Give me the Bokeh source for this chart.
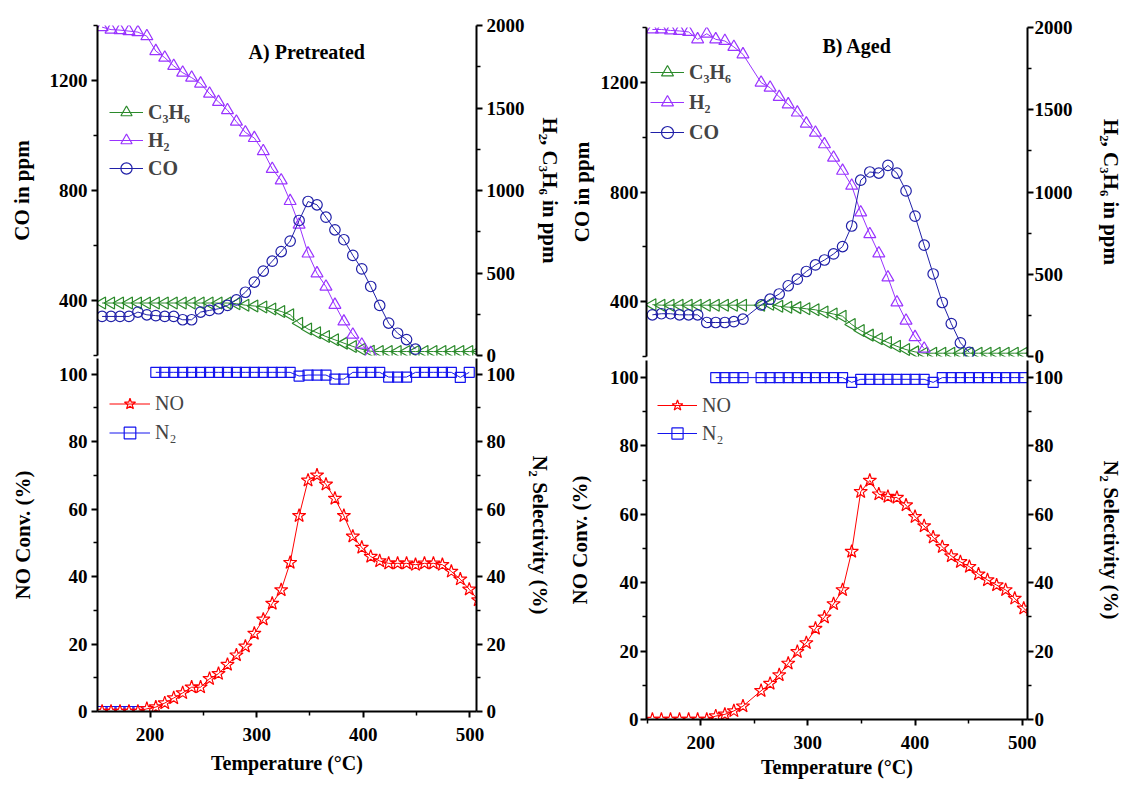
import numpy as np
from bokeh.plotting import figure
from bokeh.models import (ColumnDataSource, LinearAxis, Range1d, FixedTicker,
                          Legend, LegendItem, Label)
from bokeh.layouts import row, column
from bokeh.embed import file_html
from bokeh.resources import INLINE

FONT = "Liberation Serif"

# ---------------- data: A) pretreated catalyst ----------------
temp_a = [155.0, 163.4, 171.8, 180.2, 188.6, 197.0, 205.4, 213.8, 222.2, 230.6,
          239.0, 247.4, 255.8, 264.2, 272.6, 281.0, 289.4, 297.8, 306.2, 314.6,
          323.0, 331.4, 339.8, 348.2, 356.6, 365.0, 373.4, 381.8, 390.2, 398.6,
          407.0, 415.4, 423.8, 432.2, 440.6, 449.0, 457.4, 465.8, 474.2, 482.6,
          491.0, 499.4, 507.8]
co_a = [342, 342, 342, 342, 358, 348, 345, 342, 342, 330,
        330, 358, 364, 370, 382, 402, 430, 467, 507, 543,
        578, 616, 691, 760, 748, 703, 657, 621, 564, 515,
        451, 382, 318, 281, 258, 223, None, None, None, None,
        None, None, None]
h2_a = [1990, 1975, 1972, 1966, 1960, 1935, 1845, 1805, 1755, 1714,
        1684, 1648, 1587, 1537, 1487, 1417, 1352, 1318, 1238, 1131,
        1061, 936, 793, 618, 498, 417, 307, 206, 126, 66,
        15, None, None, None, None, None, None, None, None, None,
        None, None, None]
c3h6_a = [318, 318, 318, 318, 318, 318, 318, 318, 318, 318,
          318, 318, 318, 318, 318, 314, 305, 300, 294, 282,
          267, 247, 195, 160, 138, 115, 95, 75, 55, 38,
          26, 24, 24, 24, 24, 24, 24, 24, 24, 24,
          24, 24, 24]
no_a = [0, 0, 0, 0, 0, 0.8, 1.3, 2.5, 4.0, 5.5,
        7.2, 7.2, 9.7, 11.2, 13.9, 16.7, 19.3, 23.1, 27.3, 32.0,
        36.0, 44.1, 58.0, 68.5, 70.0, 67.3, 63.1, 58.0, 51.9, 48.6,
        45.9, 44.6, 43.9, 43.9, 43.9, 43.5, 43.9, 43.9, 43.5, 41.5,
        39.2, 36.2, 33.0]
n2_a = [0, 0, 0, 0, 0, None, 100.5, 100.5, 100.5, 100.5,
        100.5, 100.5, 100.5, 100.5, 100.5, 100.5, 100.5, 100.5, 100.5, 100.5,
        100.5, 100.5, 99.4, 99.7, 99.7, 99.7, 98.5, 98.5, 100.5, 100.5,
        100.5, 100.5, 99.1, 99.1, 99.1, 100.5, 100.5, 100.5, 100.5, 100.5,
        99.0, 100.5, None]

# ---------------- data: B) aged catalyst ----------------
temp_b = [155.0, 163.4, 171.9, 180.3, 188.8, 197.2, 205.7, 214.1, 222.6, 231.0,
          239.5, 256.4, 264.8, 273.3, 281.7, 290.2, 298.6, 307.1, 315.5, 324.0,
          332.4, 340.9, 349.3, 357.8, 366.2, 374.7, 383.1, 391.6, 400.0, 408.5,
          416.9, 425.4, 433.8, 442.3, 450.7, 459.2, 467.6, 476.1, 484.5, 493.0,
          501.4, 509.9]
co_b = [352, 356, 356, 352, 352, 352, 324, 324, 324, 327,
        336, 388, 409, 428, 458, 482, 510, 534, 552, 574,
        601, 676, 843, 873, 869, 897, 869, 804, 712, 606,
        501, 397, 320, 250, 215, None, None, None, None, None,
        None, None]
h2_b = [1988, 1988, 1982, 1979, 1973, 1928, 1962, 1928, 1918, 1882,
        1837, 1665, 1634, 1578, 1533, 1483, 1416, 1361, 1290, 1209,
        1129, 1038, 876, 744, 627, 481, 329, 218, 118, 48,
        None, None, None, None, None, None, None, None, None, None,
        None, None]
c3h6_b = [315, 312, 312, 312, 312, 312, 312, 312, 312, 312,
          312, 312, 318, 305, 300, 297, 290, 284, 270, 258,
          245, 195, 158, 130, 108, 85, 62, 42, 28, 20,
          20, 20, 20, 20, 20, 20, 20, 20, 20, 20,
          20, 20]
no_b = [0, 0, 0, 0, 0, 0, 0, 1.0, 1.5, 2.5,
        3.9, 8.4, 10.5, 13.0, 16.4, 19.8, 22.4, 26.6, 29.9, 33.8,
        37.9, 49.1, 66.6, 69.9, 65.9, 65.2, 64.9, 62.7, 59.3, 56.6,
        53.3, 50.5, 47.8, 46.1, 44.7, 42.5, 40.8, 39.3, 37.9, 35.4,
        32.5, 30.0]
n2_b = [None, None, None, None, None, None, None, 100, 100, 100,
        100, 100, 100, 100, 100, 100, 100, 100, 100, 100,
        100, 98.6, 99.5, 99.5, 99.5, 99.5, 99.5, 99.5, 99.5, 99.5,
        98.6, 100, 100, 100, 100, 100, 100, 100, 100, 100,
        100, None]

# ---------------- axis ticks ----------------
temp_ticks = [200, 300, 400, 500]
temp_minor = [150, 250, 350, 450]
co_ticks = [400, 800, 1200]
co_minor = [200, 600, 1000, 1400]
h2_ticks = [0, 500, 1000, 1500, 2000]
h2_minor = [250, 750, 1250, 1750]
pct_ticks = [0, 20, 40, 60, 80, 100]
pct_minor = [10, 30, 50, 70, 90]

C_CO = "#2020a8"
C_H2 = "#9933ff"
C_C3H6 = "#2b8a2b"
C_NO = "#ff0000"
C_N2 = "#1414ee"


def styled_axis(label, ticks, minor, tick_standoff, label_standoff,
                label_size="21px", **kw):
    ax = LinearAxis(axis_label=label,
                    ticker=FixedTicker(ticks=ticks, minor_ticks=minor), **kw)
    ax.axis_line_width = 2
    ax.axis_line_color = "black"
    ax.major_tick_line_width = 2
    ax.minor_tick_line_width = 1.5
    ax.major_tick_in = 0
    ax.major_tick_out = 6
    ax.minor_tick_in = 0
    ax.minor_tick_out = 4
    ax.major_label_standoff = tick_standoff
    ax.axis_label_standoff = label_standoff
    ax.major_label_text_font = FONT
    ax.major_label_text_font_style = "bold"
    ax.major_label_text_font_size = "19px"
    ax.major_label_text_color = "black"
    ax.axis_label_text_font = FONT
    ax.axis_label_text_font_style = "bold"
    ax.axis_label_text_font_size = label_size
    ax.axis_label_text_color = "black"
    return ax


def base_figure(width, height, xr, yr, borders, **kw):
    left, right, top, bottom = borders
    p = figure(width=width, height=height, x_range=Range1d(*xr),
               y_range=Range1d(*yr), x_axis_location=None, y_axis_location=None,
               toolbar_location=None, output_backend="svg",
               min_border_left=left, min_border_right=right,
               min_border_top=top, min_border_bottom=bottom, **kw)
    p.grid.visible = False
    p.outline_line_color = None
    p.background_fill_color = "white"
    p.border_fill_color = "white"
    return p


def series(p, x, y, color, marker, size, angle=0.0, range_name="default"):
    src = ColumnDataSource(dict(x=np.array(x, dtype=float),
                                y=np.array(y, dtype=float)))
    ln = p.line("x", "y", source=src, line_color=color, line_width=1,
                y_range_name=range_name)
    sc = p.scatter("x", "y", source=src, marker=marker, size=size, angle=angle,
                   line_color=color, fill_color=None, line_width=1.2,
                   y_range_name=range_name)
    return [ln, sc]


def make_legend(items, loc, glyph_w, glyph_h, bold):
    lg = Legend(items=[LegendItem(label=t, renderers=r) for t, r in items],
                location=loc, padding=0, margin=0, spacing=0,
                glyph_width=glyph_w, glyph_height=glyph_h, label_height=glyph_h,
                label_standoff=5, border_line_color=None,
                background_fill_alpha=0.0,
                label_text_font=FONT, label_text_font_size="20px",
                label_text_font_style="bold" if bold else "normal")
    return lg


def gas_panel(temp, co, h2, c3h6, xr, width, height, borders, title, title_xy,
              stands, legend_loc, legend_w, legend_h):
    p = base_figure(width, height, xr, (200, 1400), borders)
    p.extra_y_ranges = {"h2": Range1d(0, 2000)}
    p.add_layout(styled_axis("CO in ppm", co_ticks, co_minor, stands[0], stands[1]), "left")
    p.add_layout(styled_axis("H₂, C₃H₆ in ppm", h2_ticks, h2_minor, stands[2], stands[3],
                             y_range_name="h2"), "right")
    r_c3h6 = series(p, temp, c3h6, C_C3H6, "triangle", 12, angle=np.pi / 2, range_name="h2")
    r_h2 = series(p, temp, h2, C_H2, "triangle", 12, range_name="h2")
    r_co = series(p, temp, co, C_CO, "circle", 10.5)
    p.add_layout(make_legend([("C₃H₆", r_c3h6), ("H₂", r_h2), ("CO", r_co)],
                             legend_loc, legend_w, legend_h, True))
    p.add_layout(Label(x=title_xy[0], y=title_xy[1], y_range_name="h2", text=title,
                       text_font=FONT, text_font_style="bold", text_font_size="20px",
                       text_align="center", text_baseline="middle", text_color="black"))
    return p


def no_panel(temp, no, n2, xr, ytop, width, height, borders, overlap, stands,
             xlabel_stand, legend_loc, legend_w, legend_h):
    # pulled up under the gas panel so that panel's lowest tick label stays whole
    p = base_figure(width, height, xr, (0, ytop), borders, margin=(-overlap, 0, 0, 0))
    p.background_fill_alpha = 0.0
    p.border_fill_alpha = 0.0
    p.extra_y_ranges = {"sel": Range1d(0, ytop)}
    p.add_layout(styled_axis("NO Conv. (%)", pct_ticks, pct_minor, stands[0], stands[1]), "left")
    p.add_layout(styled_axis("N₂ Selectivity (%)", pct_ticks, pct_minor, stands[2], stands[3],
                             y_range_name="sel"), "right")
    p.add_layout(styled_axis("Temperature (°C)", temp_ticks, temp_minor, 10, xlabel_stand,
                             label_size="20px"), "below")
    r_n2 = series(p, temp, n2, C_N2, "square", 10, range_name="sel")
    r_no = series(p, temp, no, C_NO, "star", 14)
    p.add_layout(make_legend([("NO", r_no), ("N₂", r_n2)],
                             legend_loc, legend_w, legend_h, False))
    return p


a_top = gas_panel(temp_a, co_a, h2_a, c3h6_a, (150.7, 506.2), 564, 367, (97, 84, 25, 12),
                  "A) Pretreated", (347, 1840), (4, 13, 4, 10), (12, 173), 34, 28)
a_bot = no_panel(temp_a, no_a, n2_a, (150.7, 506.2), 104.6, 564, 427, (97, 84, 0, 74), 9,
                 (4, 21, 4, 10), 8, (12, 264), 41, 29)
b_top = gas_panel(temp_b, co_b, h2_b, c3h6_b, (149.5, 504.9), 562, 368, (81, 98, 27, 12),
                  "B) Aged", (346, 1888), (2, 4, 1, 23), (4, 209), 34, 30)
b_bot = no_panel(temp_b, no_b, n2_b, (149.5, 504.9), 105.0, 562, 425, (81, 98, 0, 66), 8,
                 (2, 15, 1, 33), 4, (11, 272), 40, 28)

layout = row(column(a_top, a_bot), column(b_top, b_bot))
open("out.html", "w").write(file_html(layout, INLINE))
